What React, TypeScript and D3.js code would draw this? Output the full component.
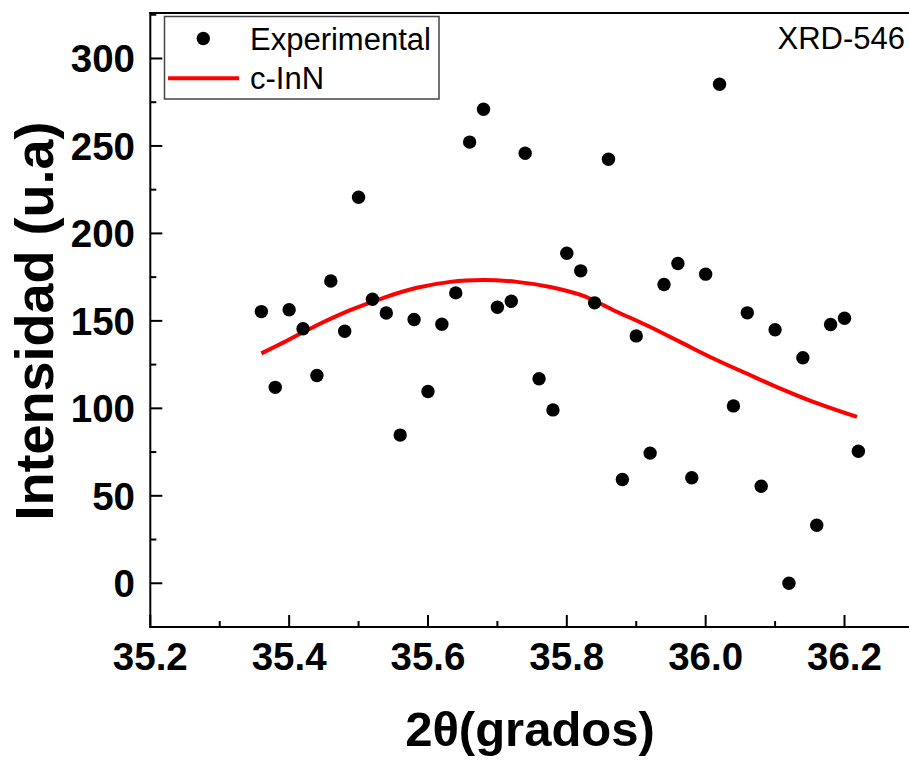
import React from "react";
import * as d3 from "d3";

const expX = [35.36, 35.38, 35.4, 35.42, 35.44, 35.46, 35.48, 35.5, 35.52, 35.54, 35.56, 35.58, 35.6, 35.62, 35.64, 35.66, 35.68, 35.7, 35.72, 35.74, 35.76, 35.78, 35.8, 35.82, 35.84, 35.86, 35.88, 35.9, 35.92, 35.94, 35.96, 35.98, 36.0, 36.02, 36.04, 36.06, 36.08, 36.1, 36.12, 36.14, 36.16, 36.18, 36.2, 36.22];
const expY = [155.3, 112, 156.4, 145.5, 118.8, 172.8, 144.1, 220.7, 162.4, 154.5, 84.7, 150.8, 109.6, 148.1, 166, 252.2, 271, 157.8, 161.2, 245.8, 116.9, 99.1, 188.7, 178.6, 160.3, 242.4, 59.3, 141.4, 74.4, 170.8, 182.8, 60.3, 176.7, 285.3, 101.4, 154.6, 55.5, 144.9, 0, 128.9, 33.2, 147.9, 151.5, 75.5];

const fitX = [35.36, 35.392, 35.44, 35.488, 35.536, 35.584, 35.632, 35.68, 35.728, 35.776, 35.824, 35.867, 35.915, 35.963, 36.011, 36.059, 36.107, 36.155, 36.218];
const fitY = [131.4, 137.7, 147.5, 156.1, 163.2, 168.9, 172.3, 173.3, 172.3, 169.4, 164.3, 156.1, 147.5, 138, 128.5, 119.9, 111.4, 103.7, 95.1];

const xMajor = [35.2, 35.4, 35.6, 35.8, 36.0, 36.2];
const xMinor = [35.3, 35.5, 35.7, 35.9, 36.1];
const yMajor = [0, 50, 100, 150, 200, 250, 300];
const yMinor = [-25, 25, 75, 125, 175, 225, 275, 325];

const legendLabels = ["Experimental", "c-InN"];
const sampleLabel = "XRD-546";
const xTitle = "2θ(grados)";
const yTitle = "Intensidad (u.a)";

const FONT = "'Liberation Sans', Arial, Helvetica, sans-serif";

export default function App() {
  const W = 909, H = 763;
  const left = 150.3, bottom = 627, top = 13;
  const x = d3.scaleLinear().domain([35.2, 36.2]).range([left, 844.5]);
  const y = d3.scaleLinear().domain([-25, 326]).range([bottom, top]);
  const right = x(36.3);

  const line = d3
    .line<number>()
    .x((_, i) => x(fitX[i]))
    .y((d) => y(d))
    .curve(d3.curveCatmullRom.alpha(0.5));

  return (
    <svg
      width={W}
      height={H}
      style={{ position: "absolute", left: 0, top: 0, background: "#fff" }}
      fontFamily={FONT}
    >
      <rect x={0} y={0} width={W} height={H} fill="#fff" />
      <path d={line(fitY) || ""} fill="none" stroke="#ff0000" strokeWidth={4} />
      {expX.map((xv, i) => (
        <circle key={i} cx={x(xv)} cy={y(expY[i])} r={6.7} fill="#000" />
      ))}
      <line x1={left} x2={left} y1={top - 1} y2={bottom + 1} stroke="#000" strokeWidth={2} />
      <line x1={left - 1} x2={right} y1={bottom} y2={bottom} stroke="#000" strokeWidth={2} />
      <line x1={left - 1} x2={right} y1={top} y2={top} stroke="#000" strokeWidth={2} />
      {xMajor.map((v) => (
        <g key={"xM" + v}>
          <line x1={x(v)} x2={x(v)} y1={bottom} y2={bottom - 12} stroke="#000" strokeWidth={2} />
          <text x={x(v)} y={669.5} textAnchor="middle" fontSize={38.5} fontWeight="bold" fill="#000">
            {v.toFixed(1)}
          </text>
        </g>
      ))}
      {xMinor.map((v) => (
        <line key={"xm" + v} x1={x(v)} x2={x(v)} y1={bottom} y2={bottom - 6} stroke="#000" strokeWidth={2} />
      ))}
      {yMajor.map((v) => (
        <g key={"yM" + v}>
          <line x1={left} x2={left + 12} y1={y(v)} y2={y(v)} stroke="#000" strokeWidth={2} />
          <text x={135} y={y(v)} dy="0.36em" textAnchor="end" fontSize={38.5} fontWeight="bold" fill="#000">
            {v}
          </text>
        </g>
      ))}
      {yMinor.map((v) => (
        <line key={"ym" + v} x1={left} x2={left + 6} y1={y(v)} y2={y(v)} stroke="#000" strokeWidth={2} />
      ))}
      <text x={530} y={746} textAnchor="middle" fontSize={49} fontWeight="bold" fill="#000">
        {xTitle}
      </text>
      <text
        transform={`translate(53,321) rotate(-90)`}
        textAnchor="middle"
        fontSize={54}
        fontWeight="bold"
        fill="#000"
      >
        {yTitle}
      </text>
      <text x={905} y={48.5} textAnchor="end" fontSize={31} fill="#000">
        {sampleLabel}
      </text>
      <rect x={164.5} y={16.5} width={274.5} height={82.5} fill="#fff" stroke="#444" strokeWidth={1.5} />
      <circle cx={203.3} cy={38.5} r={6.7} fill="#000" />
      <text x={250} y={50} fontSize={31} fill="#000">
        {legendLabels[0]}
      </text>
      <line x1={168} x2={239} y1={78.3} y2={78.3} stroke="#ff0000" strokeWidth={4} />
      <text x={250} y={88.5} fontSize={31} fill="#000">
        {legendLabels[1]}
      </text>
    </svg>
  );
}
